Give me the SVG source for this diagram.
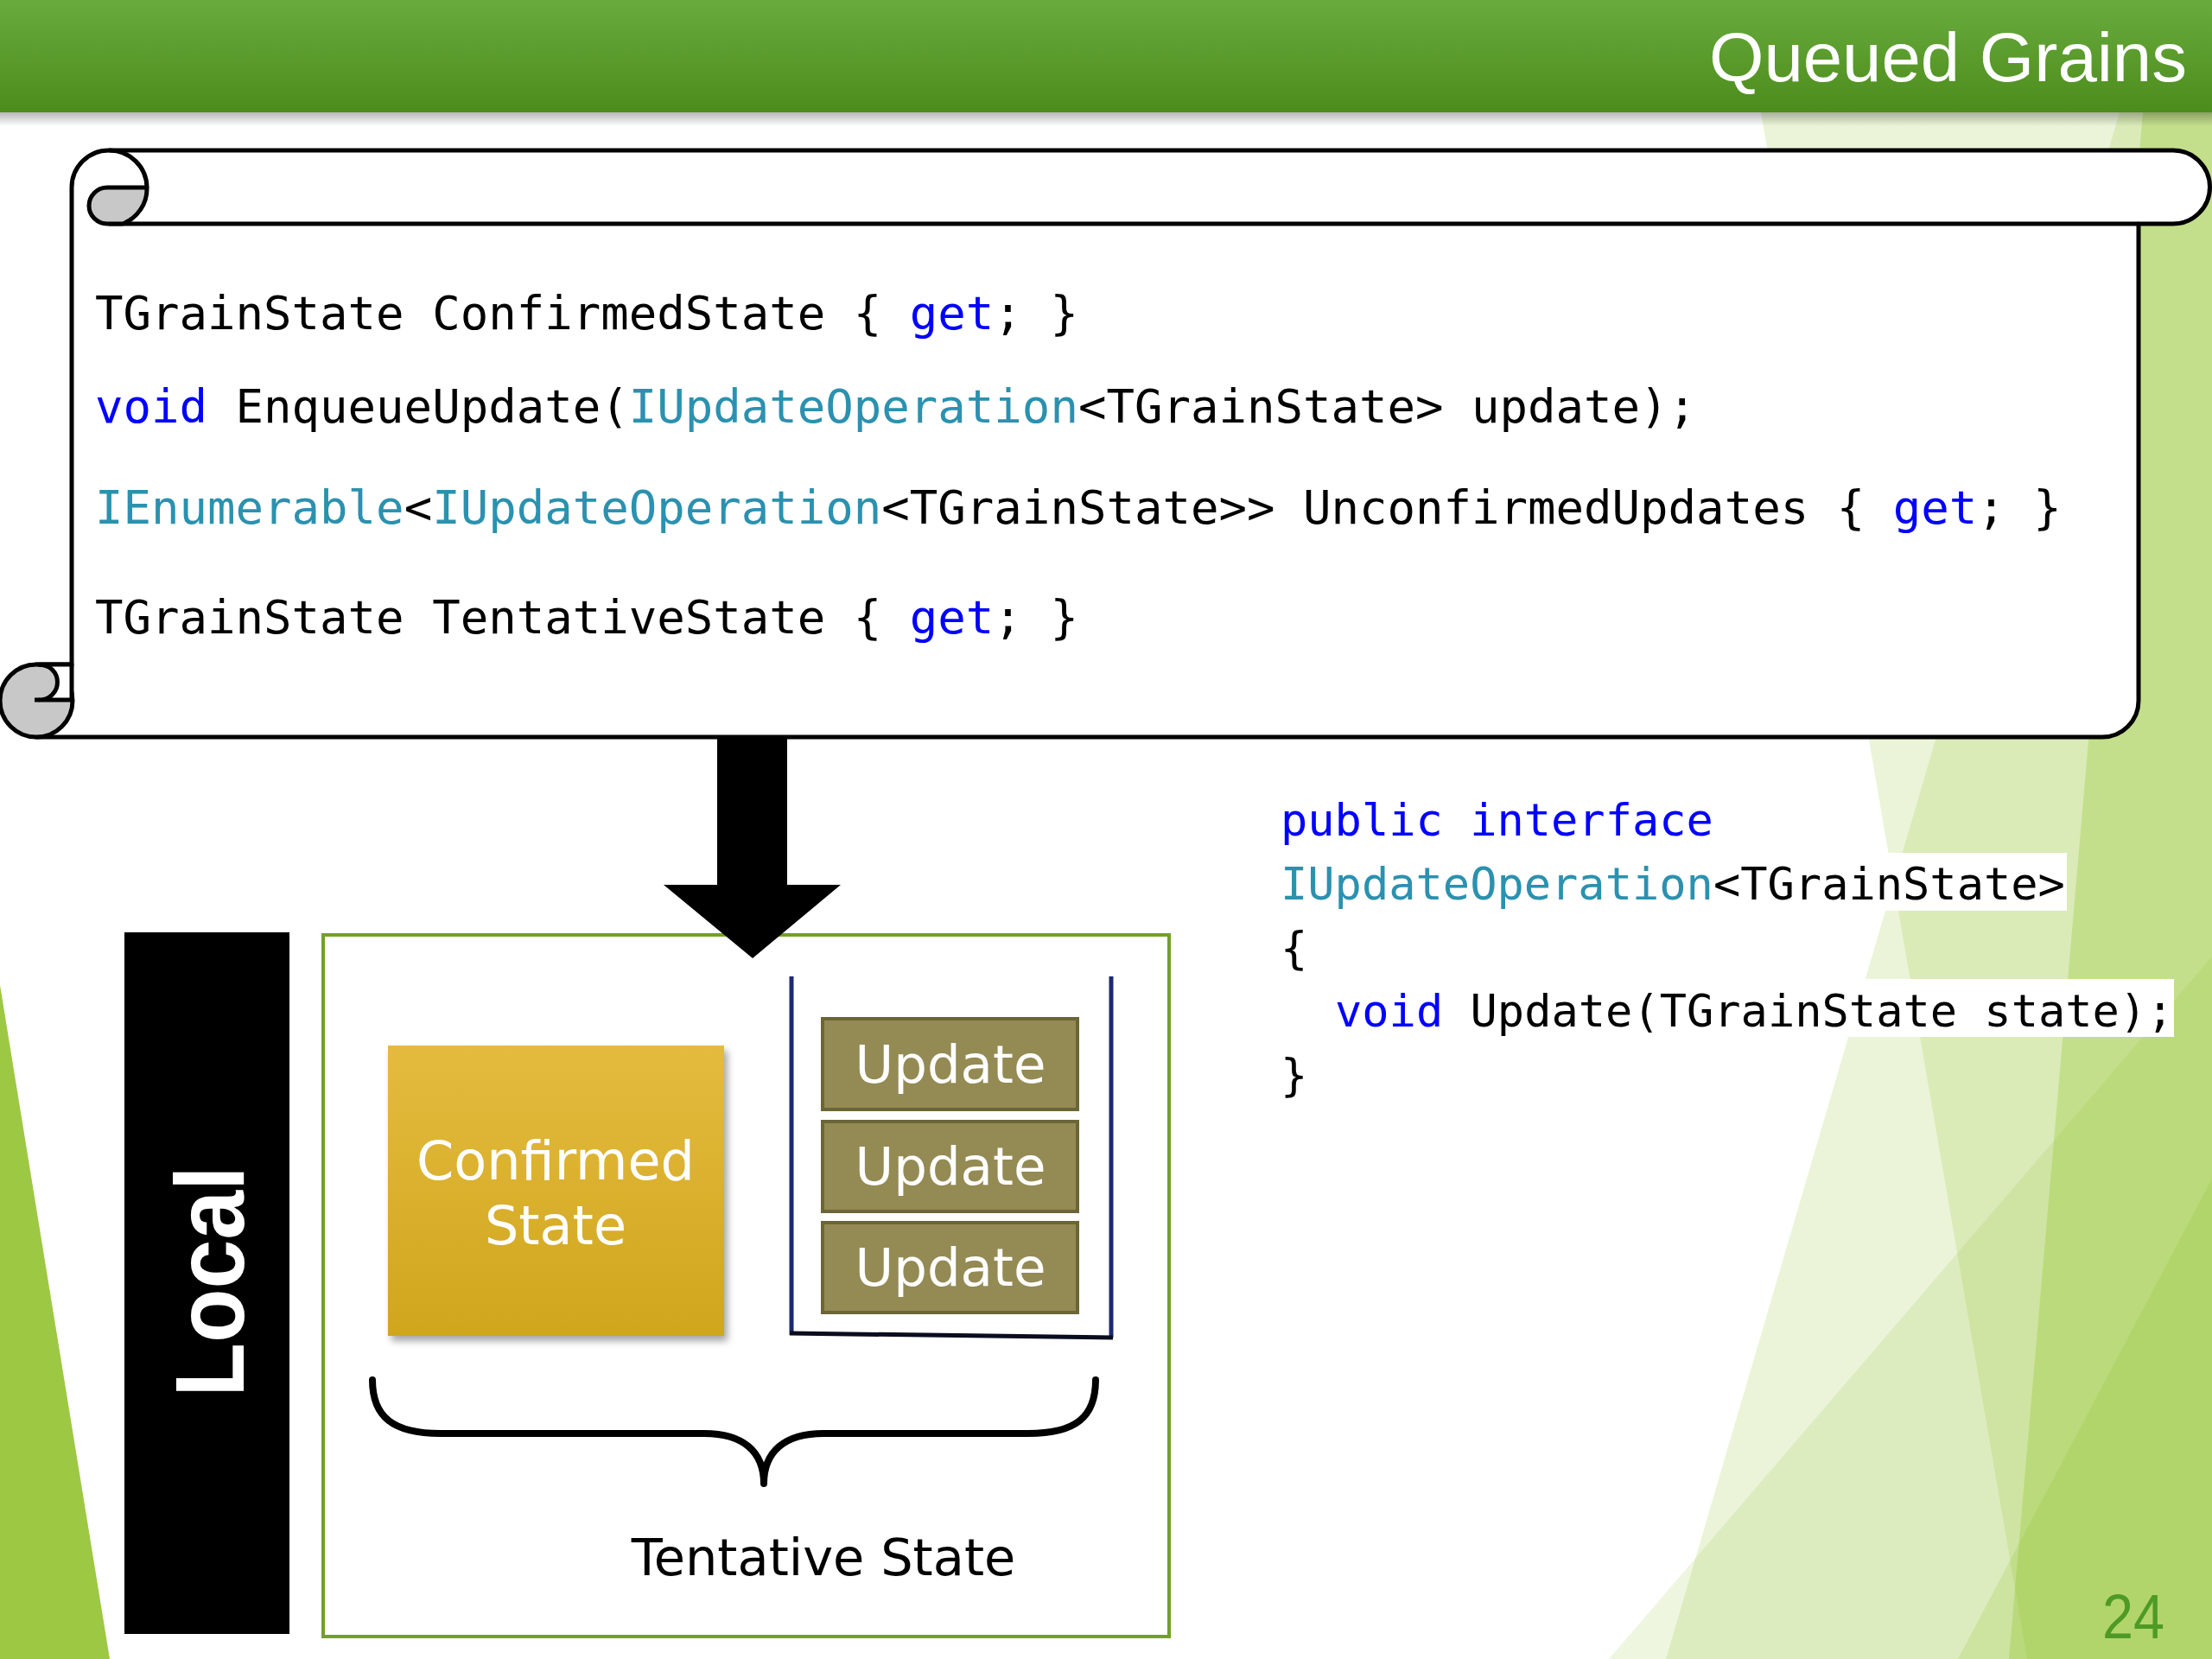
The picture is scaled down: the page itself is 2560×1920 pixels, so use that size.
<svg xmlns="http://www.w3.org/2000/svg" width="2560" height="1920" viewBox="0 0 2560 1920">
<defs>
<linearGradient id="hdr" x1="0" y1="0" x2="0" y2="1"><stop offset="0" stop-color="#6aab3e"/><stop offset="1" stop-color="#4b8c1c"/></linearGradient>
<linearGradient id="hdrsh" x1="0" y1="0" x2="0" y2="1"><stop offset="0" stop-color="#000" stop-opacity="0.28"/><stop offset="1" stop-color="#000" stop-opacity="0"/></linearGradient>
<linearGradient id="gold" x1="0" y1="0" x2="0" y2="1"><stop offset="0" stop-color="#e5bb3f"/><stop offset="1" stop-color="#cfa61c"/></linearGradient>
<filter id="blur" x="-10%" y="-10%" width="120%" height="120%"><feGaussianBlur stdDeviation="4"/></filter>
<style>
.code{font-family:"DejaVu Sans Mono","Liberation Mono",monospace;fill:#000}
.kw{fill:#0000ff}
.ty{fill:#2b91af}
.lbl{font-family:"DejaVu Sans","Liberation Sans",sans-serif;text-anchor:middle}
.sc{stroke:#000;stroke-width:5;stroke-linejoin:round}
.facet{fill:#90c226}
.upd rect{fill:#948a54;stroke:#6b6538;stroke-width:4}
.upd text{fill:#fff;font-size:61px}
</style>
</defs>

<g id="background">
<rect x="0" y="0" width="2560" height="1920" fill="#fff"/>
<polygon class="facet" fill-opacity="0.18" points="2038,130 2560,130 2560,1920 2346,1920"/>
<polygon class="facet" fill-opacity="0.18" points="2453,130 2560,130 2560,1920 1928,1920"/>
<polygon class="facet" fill-opacity="0.3" points="2480,130 2560,130 2560,1920 2325,1920"/>
<polygon class="facet" fill-opacity="0.14" points="1862,1920 2560,1107 2560,1920"/>
<polygon class="facet" fill-opacity="0.2" points="2266,1920 2560,1364 2560,1920"/>
<polygon points="0,1140 127,1920 0,1920" fill="#9dc843"/>
</g>

<g id="header">
<rect x="0" y="0" width="2560" height="130" fill="url(#hdr)"/>
<rect x="0" y="130" width="2560" height="16" fill="url(#hdrsh)"/>
<text x="1978" y="94" font-family="'Liberation Sans',Arial,sans-serif" font-size="80" fill="#fff" textLength="553" lengthAdjust="spacingAndGlyphs">Queued Grains</text>
</g>

<g id="scroll">
<path class="sc" fill="#fff" d="M 83,217 A 43 43 0 0 1 126,174 L 2515,174 A 42.5 42.5 0 0 1 2515,259 L 2475,259 L 2475,811 A 42 42 0 0 1 2433,853 L 42,853 L 42,769 L 83,769 Z"/>
<path class="sc" fill="none" d="M 126,259 L 2475,259"/>
<path class="sc" fill="#c8c8c8" d="M 124,217 L 170,217 A 43.5 43.5 0 0 1 142,259 L 124,259 A 21 21 0 0 1 124,217 Z"/>
<path class="sc" fill="none" d="M 126,174 A 43.5 43.5 0 0 1 170,217"/>
<circle class="sc" cx="42" cy="811" r="42" fill="#c8c8c8"/>
<path class="sc" fill="#fff" d="M 46,769 L 83,769 L 83,810 L 46,810 A 20.5 20.5 0 0 0 46,769 Z"/>
<path class="sc" fill="none" d="M 40,810 L 46,810"/>
<g class="code" font-size="54">
<text x="110" y="381" xml:space="preserve">TGrainState ConfirmedState { <tspan class="kw">get</tspan>; }</text>
<text x="110" y="489" xml:space="preserve"><tspan class="kw">void</tspan> EnqueueUpdate(<tspan class="ty">IUpdateOperation</tspan>&lt;TGrainState&gt; update);</text>
<text x="110" y="606" xml:space="preserve"><tspan class="ty">IEnumerable</tspan>&lt;<tspan class="ty">IUpdateOperation</tspan>&lt;TGrainState&gt;&gt; UnconfirmedUpdates { <tspan class="kw">get</tspan>; }</text>
<text x="110" y="733" xml:space="preserve">TGrainState TentativeState { <tspan class="kw">get</tspan>; }</text>
</g>
</g>

<g id="interface-code">
<rect x="1478" y="987" width="914" height="67" fill="#fff"/>
<rect x="1478" y="1133" width="1038" height="67" fill="#fff"/>
<g class="code" font-size="52">
<text x="1482" y="967" class="kw" xml:space="preserve">public interface</text>
<text x="1482" y="1041" xml:space="preserve"><tspan class="ty">IUpdateOperation</tspan>&lt;TGrainState&gt;</text>
<text x="1482" y="1115">{</text>
<text x="1545" y="1188" xml:space="preserve"><tspan class="kw">void</tspan> Update(TGrainState state);</text>
<text x="1482" y="1262">}</text>
</g>
</g>

<g id="local-bar">
<rect x="144" y="1079" width="191" height="812" fill="#000"/>
<text transform="translate(282,1483) rotate(-90)" x="0" y="0" text-anchor="middle" font-family="'Liberation Sans',Arial,sans-serif" font-weight="bold" font-size="114" fill="#fff" textLength="267" lengthAdjust="spacingAndGlyphs">Local</text>
</g>

<g id="local-frame">
<rect x="374" y="1082" width="979" height="812" fill="none" stroke="#72a028" stroke-width="4"/>
</g>

<g id="confirmed-state">
<rect x="453" y="1216" width="389" height="336" fill="#000" opacity="0.35" filter="url(#blur)"/>
<rect x="449" y="1210" width="389" height="336" fill="url(#gold)"/>
<text class="lbl" x="643" y="1365" font-size="62" fill="#fff">Confirmed</text>
<text class="lbl" x="643" y="1440" font-size="62" fill="#fff">State</text>
</g>

<g id="queue">
<path d="M 916,1130 L 916,1545" stroke="#1c2a6e" stroke-width="5" fill="none"/>
<path d="M 1286,1130 L 1286,1548" stroke="#1c2a6e" stroke-width="5" fill="none"/>
<path d="M 914,1543 L 1288,1548" stroke="#0a0d1e" stroke-width="5" fill="none"/>
</g>

<g id="update-1" class="upd">
<rect x="952" y="1179" width="295" height="105"/>
<text class="lbl" x="1100" y="1253">Update</text>
</g>
<g id="update-2" class="upd">
<rect x="952" y="1298" width="295" height="104"/>
<text class="lbl" x="1100" y="1371">Update</text>
</g>
<g id="update-3" class="upd">
<rect x="952" y="1415" width="295" height="104"/>
<text class="lbl" x="1100" y="1488">Update</text>
</g>

<g id="tentative-state">
<path d="M 431,1597 C 431,1640 455,1659 510,1659 L 815,1659 C 860,1659 884,1680 884,1717 C 884,1680 908,1659 953,1659 L 1190,1659 C 1245,1659 1268,1640 1268,1597" fill="none" stroke="#000" stroke-width="8" stroke-linecap="round" stroke-linejoin="round"/>
<text class="lbl" x="953" y="1823" font-size="59" fill="#000">Tentative State</text>
</g>

<g id="connectors">
<polygon points="830,853 911,853 911,1024 973,1024 871,1109 768,1024 830,1024" fill="#000"/>
</g>

<g id="page-number">
<text x="2433" y="1896" font-family="'Liberation Sans',Arial,sans-serif" font-size="72" fill="#4e9a26" textLength="72" lengthAdjust="spacingAndGlyphs">24</text>
</g>
</svg>
